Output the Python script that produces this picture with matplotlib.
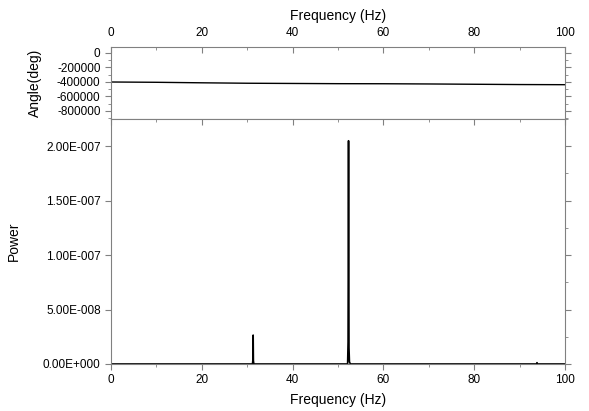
import numpy as np
import matplotlib.pyplot as plt
from matplotlib.ticker import MultipleLocator, FuncFormatter

plt.rcParams['font.family'] = ['Liberation Sans', 'DejaVu Sans']
plt.rcParams['axes.unicode_minus'] = False

# phase spectrum (slowly drifting)
phase_freq = [0, 10, 20, 30, 40, 50, 60, 70, 80, 90, 100]
phase_deg = [-401000, -405000, -412000, -418000, -421000, -424000,
             -425000, -428000, -432000, -436000, -438000]

# power spectrum (narrow peaks)
pow_freq = [0, 31.15, 31.25, 31.3, 31.35, 31.45, 52.1, 52.2, 52.3, 52.4, 52.5,
            52.7, 93.7, 93.8, 93.9, 100]
pow_val = [0, 0, 4e-9, 2.65e-8, 3e-9, 0, 0, 2e-8, 2.05e-7, 1.5e-8, 2e-9,
           0, 0, 1.2e-9, 0, 0]

gray = '#808080'
fig = plt.figure(figsize=(5.89, 4.11), dpi=100)
ax1 = fig.add_axes([0.1885, 0.7105, 0.771, 0.175])
ax2 = fig.add_axes([0.1885, 0.1144, 0.771, 0.5961])

ax1.plot(phase_freq, phase_deg, color='black', lw=1.0)
ax2.plot(pow_freq, pow_val, color='black', lw=1.2)

for ax in (ax1, ax2):
    ax.set_xlim(0, 100)
    ax.xaxis.set_major_locator(MultipleLocator(20))
    ax.xaxis.set_minor_locator(MultipleLocator(10))
    for s in ax.spines.values():
        s.set_color(gray)
    ax.tick_params(which='both', color=gray, labelsize=8.5)
    ax.tick_params(which='major', length=4)
    ax.tick_params(which='minor', length=2.5)

# top panel
ax1.set_ylim(-910000, 80000)
ax1.yaxis.set_major_locator(MultipleLocator(200000))
ax1.yaxis.set_minor_locator(MultipleLocator(100000))
ax1.xaxis.tick_top()
ax1.xaxis.set_label_position('top')
ax1.tick_params(axis='x', which='both', direction='in', top=True, bottom=False, pad=6)
ax1.tick_params(axis='y', which='both', direction='out', left=True, right=True)
ax1.set_xlabel('Frequency (Hz)', fontsize=10, labelpad=5)
ax1.set_ylabel('Angle(deg)', fontsize=10, labelpad=11)

# bottom panel
ax2.set_ylim(0, 2.25e-7)
ax2.yaxis.set_major_locator(MultipleLocator(5e-8))
ax2.yaxis.set_minor_locator(MultipleLocator(2.5e-8))
ax2.yaxis.set_major_formatter(FuncFormatter(
    lambda v, p: '%.2fE%s%03d' % (v / 10 ** np.floor(np.log10(v)), '-' if v < 1 else '+', abs(int(np.floor(np.log10(v)))))
    if v > 0 else '0.00E+000'))
ax2.tick_params(axis='x', which='both', direction='out', bottom=True)
ax2.tick_params(axis='x', which='both', top=True)
ax2.tick_params(axis='y', which='major', direction='out', left=True, right=True)
ax2.tick_params(axis='y', which='minor', left=False, right=True, direction='out')
ax2.set_xlabel('Frequency (Hz)', fontsize=10, labelpad=5)
ax2.set_ylabel('Power', fontsize=10, labelpad=16)

# top ticks of lower panel point inward
for t in ax2.xaxis.get_major_ticks() + ax2.xaxis.get_minor_ticks():
    t.tick2line.set_marker(3)

fig.savefig('out.png', dpi=100)
